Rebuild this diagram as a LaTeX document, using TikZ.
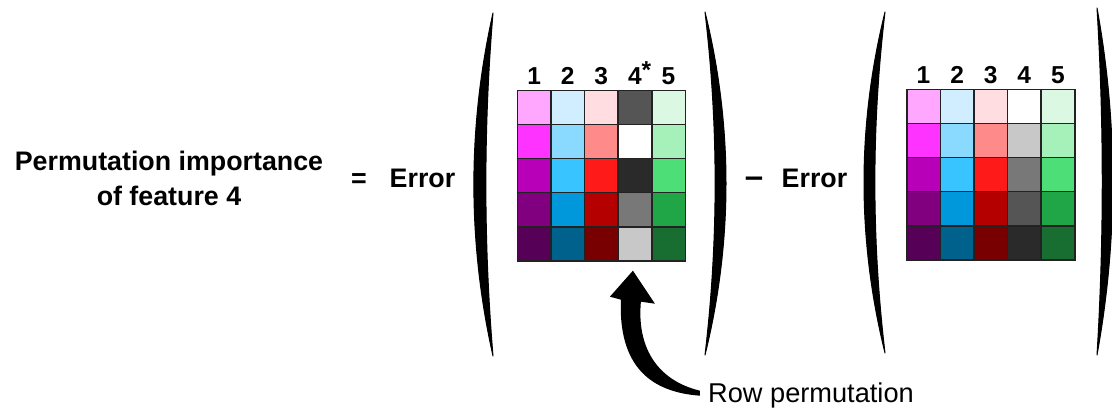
\documentclass[tikz,border=0pt]{standalone}
\usepackage{fontspec}
\setmainfont{Liberation Sans}
\definecolor{p1}{HTML}{FFA6FF}\definecolor{p2}{HTML}{FF33FF}\definecolor{p3}{HTML}{B800B8}\definecolor{p4}{HTML}{800080}\definecolor{p5}{HTML}{570057}
\definecolor{b1}{HTML}{D0EEFF}\definecolor{b2}{HTML}{8ADAFF}\definecolor{b3}{HTML}{38C5FF}\definecolor{b4}{HTML}{0098DA}\definecolor{b5}{HTML}{00628C}
\definecolor{r1}{HTML}{FFDDE1}\definecolor{r2}{HTML}{FF8A8A}\definecolor{r3}{HTML}{FF1A1A}\definecolor{r4}{HTML}{B50000}\definecolor{r5}{HTML}{780000}
\definecolor{k1}{HTML}{FFFFFF}\definecolor{k2}{HTML}{C8C8C8}\definecolor{k3}{HTML}{787878}\definecolor{k4}{HTML}{555555}\definecolor{k5}{HTML}{2A2A2A}
\definecolor{g1}{HTML}{DAF8E2}\definecolor{g2}{HTML}{A6F0B9}\definecolor{g3}{HTML}{4DDE77}\definecolor{g4}{HTML}{21A647}\definecolor{g5}{HTML}{176E30}
\definecolor{gridc}{HTML}{222222}
\begin{document}
\begin{tikzpicture}[x=1pt,y=-1pt,
  cell/.style={draw=gridc, line width=1.6pt, minimum width=33.6pt, minimum height=34pt, inner sep=0pt, outer sep=0pt},
  collab/.style={anchor=base, inner sep=0pt, font=\fontsize{24.5}{28}\selectfont\bfseries},
  bigtext/.style={inner sep=0pt, font=\fontsize{26.8}{35}\selectfont\bfseries},
  bracket/.style={fill=black, draw=black, line width=1pt, line join=round}]
\useasboundingbox (0,0) rectangle (1112,409);
% left matrix (row 4 permuted)
\foreach \rr/\row in {1/{p1,b1,r1,k4,g1},2/{p2,b2,r2,k1,g2},3/{p3,b3,r3,k5,g3},4/{p4,b4,r4,k3,g4},5/{p5,b5,r5,k2,g5}}{
  \foreach \f [count=\cc] in \row {
    \node[cell, fill=\f] (L-\rr-\cc) at ({517.3+(\cc-0.5)*33.6},{90.7+(\rr-0.5)*34}) {};
  }
}
% right matrix (original)
\foreach \rr/\row in {1/{p1,b1,r1,k1,g1},2/{p2,b2,r2,k2,g2},3/{p3,b3,r3,k3,g3},4/{p4,b4,r4,k4,g4},5/{p5,b5,r5,k5,g5}}{
  \foreach \f [count=\cc] in \row {
    \node[cell, fill=\f] (R-\rr-\cc) at ({906.7+(\cc-0.5)*33.6},{89.7+(\rr-0.5)*34}) {};
  }
}
% column labels
\foreach \cc in {1,2,3,5} \node[collab] (LH-\cc) at ({517.3+(\cc-0.5)*33.6},85) {\cc};
\node[collab] (LH-4) at ({517.3+3.5*33.6},85) {4\rlap{\raisebox{6pt}{*}}};
\foreach \cc in {1,...,5} \node[collab] (RH-\cc) at ({906.7+(\cc-0.5)*33.6},84) {\cc};
% brackets
\fill[bracket] (493,13) .. controls (467.5,127) and (467.5,242) .. (493,356) .. controls (483.5,242) and (483.5,127) .. (493,13) -- cycle;
\fill[bracket] (705,12) .. controls (733,126) and (733,241) .. (705,355) .. controls (718.5,241) and (718.5,126) .. (705,12) -- cycle;
\fill[bracket] (885,12) .. controls (857,126) and (857,239) .. (885,353) .. controls (871.5,239) and (871.5,126) .. (885,12) -- cycle;
\fill[bracket] (1097,8) .. controls (1118,124) and (1118,239) .. (1097,355) .. controls (1104,239) and (1104,124) .. (1097,8) -- cycle;
% texts
\node[bigtext, align=center] (title) at (169,178) {Permutation importance\\of feature 4};
\node[bigtext, anchor=base] (eq) at (359,188) {=};
\node[bigtext, anchor=base] (err1) at (422.5,188) {Error};
\node[inner sep=0pt, anchor=base, font=\fontsize{33}{36}\selectfont\bfseries] (minus) at (754,187.5) {–};
\node[bigtext, anchor=base] (err2) at (814.5,188) {Error};
\node[inner sep=0pt, anchor=base west, font=\fontsize{27.2}{32}\selectfont] (rowperm) at (708,402) {Row permutation};
% curved arrow from label to permuted column
\coordinate (tip) at ([xshift=-2pt,yshift=-10pt]L-5-4.south);
\begin{scope}[shift={(tip)}]
\fill (0,0) -- (22,33) -- (8,31) .. controls (4,74) and (22,109) .. (67,120) -- (67,125) .. controls (27,122) and (-15,104) .. (-12,29) -- (-23,26) -- cycle;
\end{scope}
\end{tikzpicture}
\end{document}
